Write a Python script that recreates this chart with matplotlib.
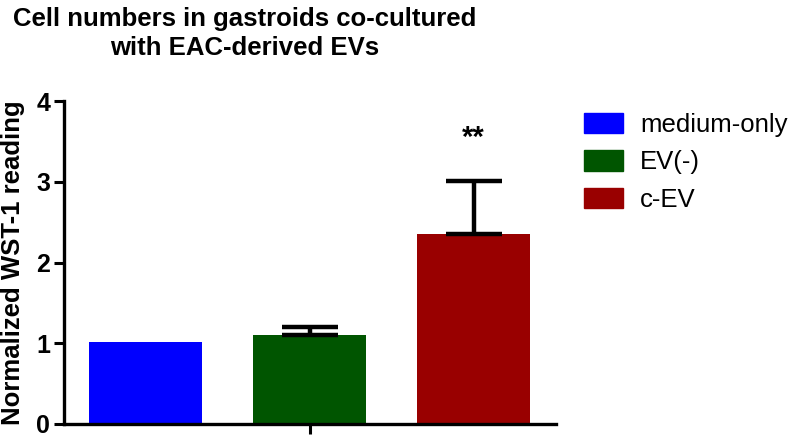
import matplotlib
matplotlib.use("Agg")
import matplotlib.pyplot as plt
from matplotlib.patches import Patch

plt.rcParams['font.family'] = ['Liberation Sans', 'DejaVu Sans']

categories = ["medium-only", "EV(-)", "c-EV"]
values = [1.01, 1.10, 2.35]
errors = [0.0, 0.10, 0.66]
colors = ["#0000FF", "#005500", "#990000"]
yticks = [0, 1, 2, 3, 4]

fig = plt.figure(figsize=(7.93, 4.38), dpi=100)
ax = fig.add_axes([0.0807, 0.032, 0.62, 0.737])

x = list(range(len(categories)))
ax.bar(x, values, width=0.69, color=colors, zorder=2)
for xi, v, e in zip(x, values, errors):
    if e > 0:
        ax.errorbar([xi], [v], yerr=[[0], [e]], fmt='none', ecolor='black',
                    elinewidth=3.2, capsize=20.5, capthick=3.2, zorder=3)

ax.text(2, 3.55, "**", ha='center', va='center', fontsize=21, fontweight='bold')

ax.set_xlim(-0.5, 2.5)
ax.set_ylim(0, 4)
ax.set_yticks(yticks)
ax.set_yticklabels([str(t) for t in yticks], fontsize=18, fontweight='bold')
ax.set_xticks([1])
ax.set_xticklabels([""])
ax.tick_params(axis='both', direction='out', width=2.2, length=7, pad=3)
for s in ['top', 'right']:
    ax.spines[s].set_visible(False)
for s in ['left', 'bottom']:
    ax.spines[s].set_linewidth(2.4)

ax.set_ylabel("Normalized WST-1 reading", fontsize=18.5, fontweight='bold', labelpad=8)
fig.text(0.309, 0.985, "Cell numbers in gastroids co-cultured\nwith EAC-derived EVs",
         ha='center', va='top', fontsize=18.5, fontweight='bold', linespacing=1.3)

handles = [Patch(facecolor=c, edgecolor=c) for c in colors]
fig.legend(handles, categories, loc='upper left', bbox_to_anchor=(0.7365, 0.743),
           frameon=False, fontsize=18.5, handlelength=1.52, handleheight=0.86,
           handletextpad=0.66, labelspacing=0.52, borderpad=0, borderaxespad=0)

fig.savefig("out.png", dpi=100)
